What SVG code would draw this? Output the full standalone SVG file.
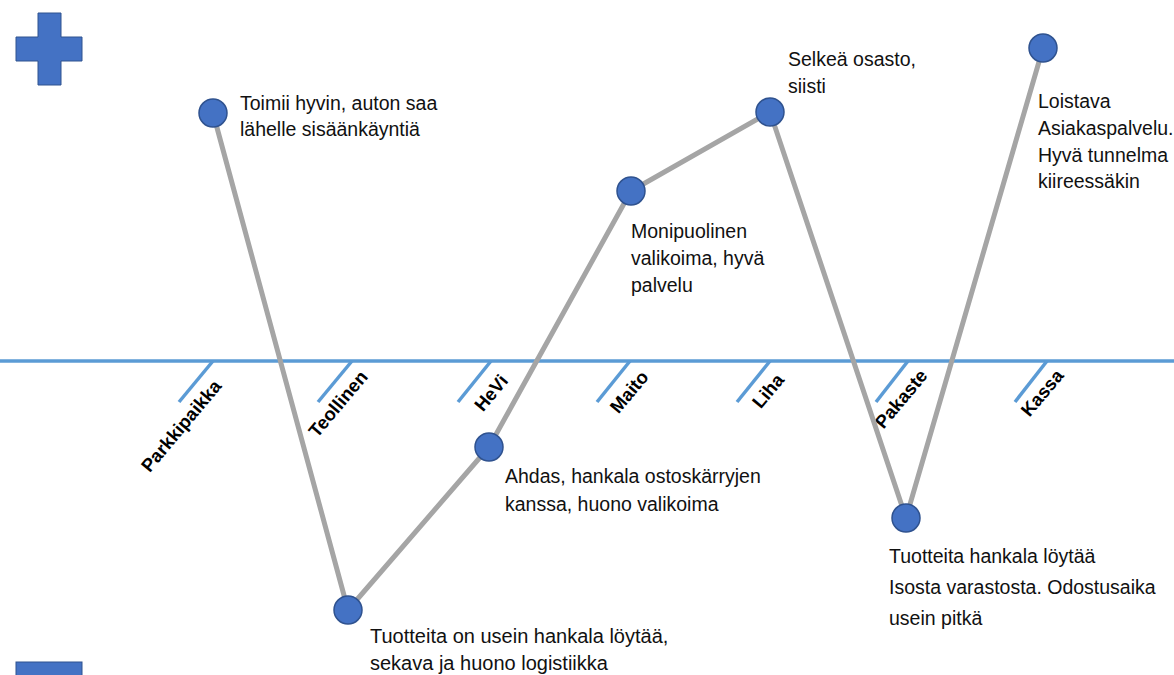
<svg xmlns="http://www.w3.org/2000/svg" width="1174" height="675" viewBox="0 0 1174 675">
  <style>
    .sign { fill: #4472C4; stroke: #2F528F; stroke-width: 1; }
    .axis { stroke: #5B9BD5; stroke-width: 3.5; fill: none; }
    .path { stroke: #A5A5A5; stroke-width: 5; fill: none; stroke-linejoin: round; }
    .dot { fill: #4472C4; stroke: #2F528F; stroke-width: 1.5; }
    .note { font-family: "Liberation Sans", Arial, sans-serif; font-size: 19.5px; fill: #111; }
    .stage { font-family: "Liberation Sans", Arial, sans-serif; font-size: 18.5px; font-weight: bold; fill: #000; text-anchor: middle; }
  </style>
  <rect width="1174" height="675" fill="#fff"/>

  <!-- plus / minus markers -->
  <g id="plus">
    <path class="sign" d="M38,13 H61 V37 H82 V61 H61 V85 H38 V61 H16 V37 H38 Z"/>
  </g>
  <g id="minus">
    <rect class="sign" x="16" y="662" width="66" height="24"/>
  </g>

  <!-- timeline axis with stage ticks -->
  <g id="axis">
    <line class="axis" x1="0" y1="361" x2="1174" y2="361"/>
    <line class="axis" x1="213" y1="361" x2="179" y2="402"/>
    <line class="axis" x1="352" y1="361" x2="318" y2="402"/>
    <line class="axis" x1="491" y1="361" x2="458" y2="402"/>
    <line class="axis" x1="630" y1="361" x2="597" y2="402"/>
    <line class="axis" x1="770" y1="361" x2="737" y2="402"/>
    <line class="axis" x1="908" y1="361" x2="876" y2="402"/>
    <line class="axis" x1="1047" y1="361" x2="1015" y2="402"/>
  </g>

  <g id="stage-labels">
    <text class="stage" transform="translate(186,430) rotate(-50)">Parkkipaikka</text>
    <text class="stage" transform="translate(343,408) rotate(-50)">Teollinen</text>
    <text class="stage" transform="translate(496,397) rotate(-50)">HeVi</text>
    <text class="stage" transform="translate(634,396) rotate(-50)">Maito</text>
    <text class="stage" transform="translate(773,395) rotate(-50)">Liha</text>
    <text class="stage" transform="translate(906,403) rotate(-50)">Pakaste</text>
    <text class="stage" transform="translate(1047,397) rotate(-50)">Kassa</text>
  </g>

  <!-- experience curve -->
  <g id="connectors">
    <polyline class="path" points="213,113 348,610 489,447 631,191 770,112 906,518 1043,48"/>
  </g>

  <g id="n-parkkipaikka">
    <circle class="dot" cx="213" cy="113" r="14"/>
    <text class="note"><tspan x="240" y="110">Toimii hyvin, auton saa</tspan><tspan x="240" y="136">lähelle sisäänkäyntiä</tspan></text>
  </g>
  <g id="n-teollinen">
    <circle class="dot" cx="348" cy="610" r="14"/>
    <text class="note" style="font-size:20px"><tspan x="370" y="643">Tuotteita on usein hankala löytää,</tspan><tspan x="370" y="670">sekava ja huono logistiikka</tspan></text>
  </g>
  <g id="n-hevi">
    <circle class="dot" cx="489" cy="447" r="14"/>
    <text class="note"><tspan x="505" y="483">Ahdas, hankala ostoskärryjen</tspan><tspan x="505" y="511">kanssa, huono valikoima</tspan></text>
  </g>
  <g id="n-maito">
    <circle class="dot" cx="631" cy="191" r="14"/>
    <text class="note"><tspan x="631" y="238">Monipuolinen</tspan><tspan x="631" y="265">valikoima, hyvä</tspan><tspan x="631" y="292">palvelu</tspan></text>
  </g>
  <g id="n-liha">
    <circle class="dot" cx="770" cy="112" r="14"/>
    <text class="note"><tspan x="788" y="66">Selkeä osasto,</tspan><tspan x="788" y="93">siisti</tspan></text>
  </g>
  <g id="n-pakaste">
    <circle class="dot" cx="906" cy="518" r="14"/>
    <text class="note"><tspan x="889" y="563">Tuotteita hankala löytää</tspan><tspan x="889" y="594">Isosta varastosta. Odostusaika</tspan><tspan x="889" y="625">usein pitkä</tspan></text>
  </g>
  <g id="n-kassa">
    <circle class="dot" cx="1043" cy="48" r="14"/>
    <text class="note"><tspan x="1038" y="108">Loistava</tspan><tspan x="1038" y="135">Asiakaspalvelu.</tspan><tspan x="1038" y="162">Hyvä tunnelma</tspan><tspan x="1038" y="188">kiireessäkin</tspan></text>
  </g>
</svg>
